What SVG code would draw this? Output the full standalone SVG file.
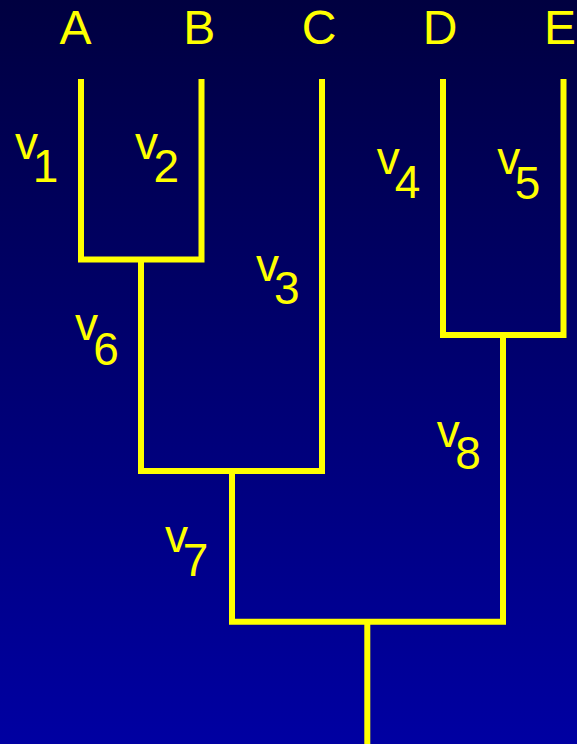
<svg xmlns="http://www.w3.org/2000/svg" width="577" height="744" viewBox="0 0 577 744">
  <defs>
    <linearGradient id="bg" x1="0" y1="0" x2="0" y2="1">
      <stop offset="0" stop-color="#000040"/>
      <stop offset="1" stop-color="#0000A2"/>
    </linearGradient>
  </defs>
  <style>
    .br { fill: none; stroke: #FFFF00; stroke-width: 6; stroke-linejoin: miter; stroke-linecap: butt; }
    .lbl { font-family: "Liberation Sans", Arial, sans-serif; fill: #FFFF00; }
    .leaf { font-size: 48px; text-anchor: middle; }
    .v { font-size: 46px; }
  </style>
  <rect x="0" y="0" width="577" height="744" fill="url(#bg)"/>

  <g id="connectors">
    <path class="br" d="M81,79 V259.5 H201.5 V79"/>
    <path class="br" d="M141,259.5 V471 H322 V79"/>
    <path class="br" d="M443,79 V335 H563.5 V79"/>
    <path class="br" d="M232,471 V621.7 H503 V335"/>
    <path class="br" d="M367.3,621.7 V744"/>
  </g>

  <g id="leaf-A"><text class="lbl leaf" x="75.5" y="44">A</text></g>
  <g id="leaf-B"><text class="lbl leaf" x="199.3" y="44">B</text></g>
  <g id="leaf-C"><text class="lbl leaf" x="319" y="44">C</text></g>
  <g id="leaf-D"><text class="lbl leaf" x="440" y="44">D</text></g>
  <g id="leaf-E"><text class="lbl leaf" x="560" y="44">E</text></g>

  <g id="label-v1"><text class="lbl v" x="15" y="159">v<tspan dx="-5.3" dy="23">1</tspan></text></g>
  <g id="label-v2"><text class="lbl v" x="135" y="159.3">v<tspan dx="-4.4" dy="23">2</tspan></text></g>
  <g id="label-v3"><text class="lbl v" x="256" y="280.7">v<tspan dx="-5" dy="23.3">3</tspan></text></g>
  <g id="label-v4"><text class="lbl v" x="376.7" y="174">v<tspan dx="-4.9" dy="24.3">4</tspan></text></g>
  <g id="label-v5"><text class="lbl v" x="497.3" y="174.3">v<tspan dx="-5.6" dy="24.7">5</tspan></text></g>
  <g id="label-v6"><text class="lbl v" x="75" y="340">v<tspan dx="-4.7" dy="25">6</tspan></text></g>
  <g id="label-v7"><text class="lbl v" x="165" y="551.7">v<tspan dx="-5.3" dy="24">7</tspan></text></g>
  <g id="label-v8"><text class="lbl v" x="436.7" y="446.7">v<tspan dx="-4.4" dy="22.6">8</tspan></text></g>
</svg>
